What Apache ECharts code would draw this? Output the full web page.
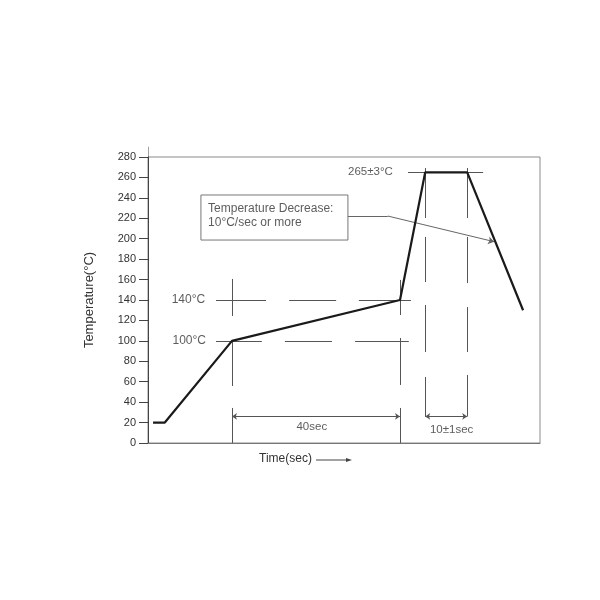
<!DOCTYPE html>
<html><head><meta charset="utf-8">
<script src="https://cdn.jsdelivr.net/npm/echarts@6/dist/echarts.min.js"></script>
<style>html,body{margin:0;background:#fff}#c{width:600px;height:600px}</style>
</head><body><div id="c"></div>
<script>
// Reflow profile: time (sec) vs temperature (°C)
const profileTime = [1.2, 4.0, 20, 60, 66, 76, 89.3];
const profileTemp = [20, 20, 100, 140, 265, 265, 130];

// Dashed guide segments (data coords)
const guideSegments = [
  [[20,160.6],[20,124.3]], [[20,100],[20,55.8]], [[20,34.3],[20,0]],
  [[60,159.6],[60,125.3]], [[60,102.8],[60,56.8]], [[60,34.3],[60,0]],
  [[66,269.2],[66,220.3]], [[66,201.7],[66,157.6]], [[66,135.1],[66,89.1]], [[66,64.6],[66,26]],
  [[76,269.2],[76,220.3]], [[76,201.7],[76,156.6]], [[76,133.1],[76,89.1]], [[76,66.6],[76,26]],
  [[16.2,140],[28.1,140]], [[33.6,140],[44.8,140]], [[50.2,140],[62.6,140]],
  [[16.2,100],[27.1,100]], [[32.6,100],[43.8,100]], [[49.3,100],[62.1,100]],
  [[61.9,265],[79.8,265]]
];
// Dimension arrows
const dimSegments = [ [[20,26],[60,26]], [[66,26],[76,26]] ];
// Leader line from note box to cooling slope
const leaderStart = [[47.6,222.2],[57.1,222.2]];
const leaderEnd = [[57.1,222.2],[82.4,197.1]];
// Note box outline
const noteBox = [[12.6,242.8],[47.6,242.8],[47.6,198.7],[12.6,198.7],[12.6,242.8]];
// Annotation texts and anchors
const labelTexts = ['140°C','100°C','265±3°C','40sec','10±1sec','Temperature Decrease:','10°C/sec or more'];
const labelX = [13.6, 13.8, 58.3, 39, 72.3, 14.3, 14.3];
const labelY = [140, 100, 265, 15.4, 12.7, 229.1, 215.4];
const labelAlign = ['right','right','right','center','center','left','left'];
const labelSize = [12, 12, 11.5, 11.5, 11.5, 12, 12];

const chart = echarts.init(document.getElementById('c'));
const FONT = 'Liberation Sans, Arial, sans-serif';
const TXT = '#333';

chart.setOption({
  animation: false,
  backgroundColor: '#fff',
  grid: { left: 148, right: 60, top: 157, bottom: 157, show: true, borderColor: '#8a8a8a', borderWidth: 1 },
  xAxis: {
    type: 'value', min: 0, max: 93.33,
    axisLine: { show: true, lineStyle: { color: '#777', width: 1 } },
    axisTick: { show: false }, axisLabel: { show: false }, splitLine: { show: false }
  },
  yAxis: {
    type: 'value', min: 0, max: 280, interval: 20,
    name: 'Temperature(°C)', nameLocation: 'middle', nameGap: 52, nameRotate: 90,
    nameTextStyle: { fontFamily: FONT, fontSize: 13, color: TXT },
    axisLine: { show: true, lineStyle: { color: '#444', width: 1 } },
    axisTick: { show: true, inside: false, length: 9, lineStyle: { color: '#444' } },
    axisLabel: { fontFamily: FONT, fontSize: 11, color: TXT, margin: 12 },
    splitLine: { show: false }
  },
  series: [
    { type: 'lines', coordinateSystem: 'cartesian2d', clip: false, silent: true,
      data: [{ coords: [[0,280],[0,290]] }], lineStyle: { color: '#444', width: 1 } },
    { type: 'lines', coordinateSystem: 'cartesian2d', clip: false, silent: true,
      data: guideSegments.map(c => ({ coords: c })), lineStyle: { color: '#555', width: 1, opacity: 1 } },
    { type: 'lines', coordinateSystem: 'cartesian2d', clip: false, silent: true,
      symbol: ['arrow','arrow'], symbolSize: 5,
      data: dimSegments.map(c => ({ coords: c })), lineStyle: { color: '#555', width: 1, opacity: 1 } },
    { type: 'lines', coordinateSystem: 'cartesian2d', clip: false, silent: true,
      data: [{ coords: leaderStart }], lineStyle: { color: '#666', width: 1, opacity: 1 } },
    { type: 'lines', coordinateSystem: 'cartesian2d', clip: false, silent: true,
      symbol: ['none','arrow'], symbolSize: 6,
      data: [{ coords: leaderEnd }], lineStyle: { color: '#666', width: 1, opacity: 1 } },
    { type: 'lines', coordinateSystem: 'cartesian2d', polyline: true, clip: false, silent: true,
      data: [{ coords: noteBox }], lineStyle: { color: '#777', width: 1, opacity: 1 } },
    { type: 'line', name: 'profile', symbol: 'none', z: 5,
      data: profileTime.map((t, i) => [t, profileTemp[i]]),
      lineStyle: { color: '#1a1a1a', width: 2.2 } },
    { type: 'scatter', symbolSize: 0, clip: false, silent: true,
      data: labelTexts.map((s, i) => ({ name: s, value: [labelX[i], labelY[i]],
        label: { align: labelAlign[i], fontSize: labelSize[i] } })),
      label: { show: true, position: 'inside', formatter: p => p.name, verticalAlign: 'middle',
        fontFamily: FONT, fontSize: 12, color: TXT } }
  ],
  graphic: [
    { type: 'text', left: 259, top: 453, style: { text: 'Time(sec)', fontFamily: FONT, fontSize: 12, fill: TXT } },
    { type: 'line', shape: { x1: 316, y1: 460, x2: 349, y2: 460 }, style: { stroke: '#444', lineWidth: 1 } },
    { type: 'polygon', shape: { points: [[352,460],[346,458],[346,462]] }, style: { fill: '#444' } }
  ]
});
</script></body></html>
